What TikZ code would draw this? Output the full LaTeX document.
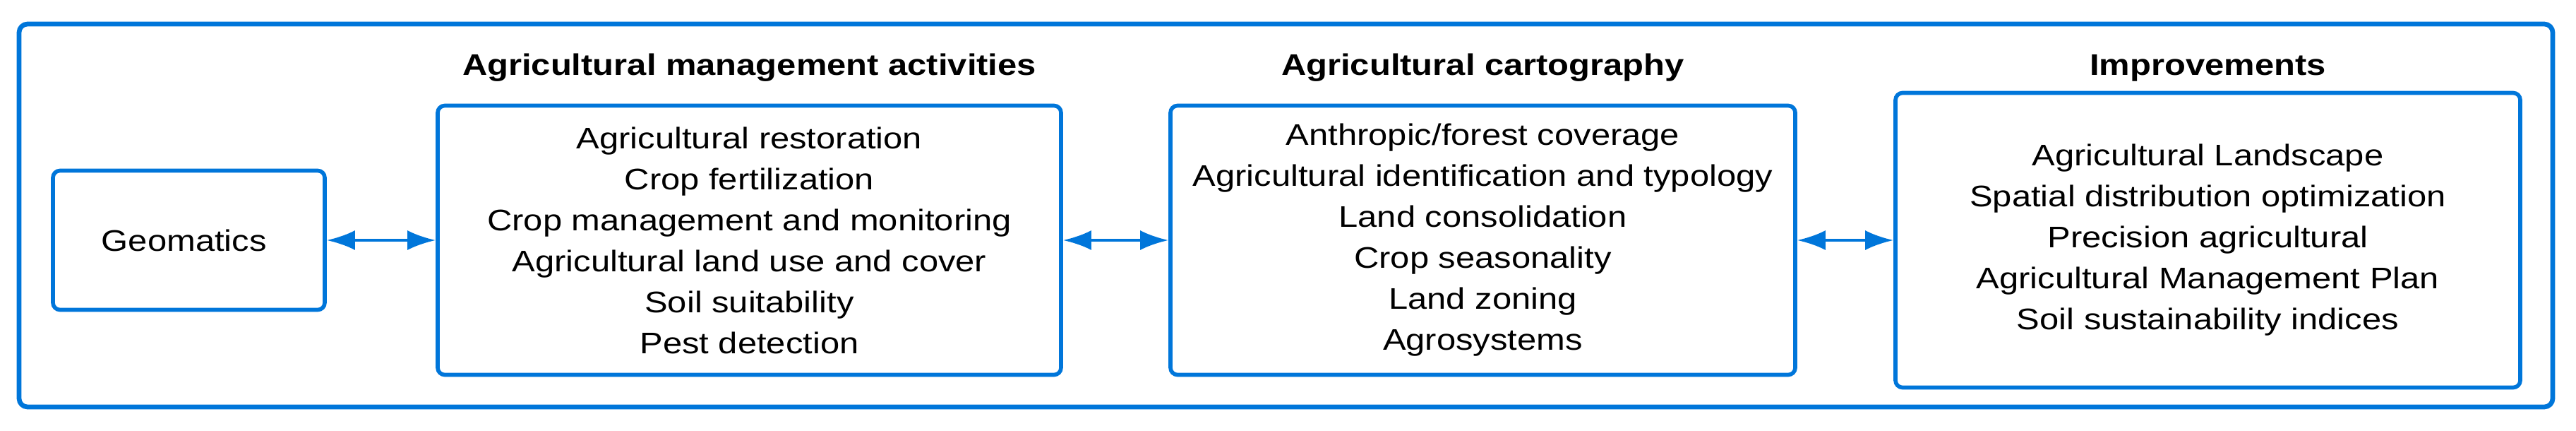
\documentclass[tikz,border=0pt]{standalone}
\usepackage{fontspec}
\setmainfont{Liberation Sans}[FakeStretch=1.16]
\usetikzlibrary{arrows.meta}
\definecolor{boxblue}{RGB}{0,118,218}

\begin{document}
\begin{tikzpicture}[
    framebox/.style={draw=boxblue, line width=1.9pt, rounded corners=1.2mm},
    itembox/.style={draw=boxblue, line width=1.6pt, rounded corners=1mm, fill=white, align=center, inner sep=0pt, font=\fontsize{12}{16.5}\selectfont},
    headtext/.style={anchor=base, inner sep=0pt, font=\fontsize{12}{16.5}\selectfont\bfseries},
    biarrow/.style={color=boxblue, line width=1.2pt, {Latex[length=4mm,width=2.8mm]}-{Latex[length=4mm,width=2.8mm]}}
    ]
    \useasboundingbox (0,0) rectangle (36.49,6.09);
    \fill[white] (0,0) rectangle (36.49,6.09);
    \draw [framebox] (0.27,0.33) rectangle (36.16,5.75);

    \node [itembox, minimum width=3.85cm, minimum height=1.97cm] (geo) at (2.675,2.69) { Geomatics };

    \node [itembox, minimum width=8.83cm, minimum height=3.81cm] (mgmt) at (10.615,2.69) {
        Agricultural restoration\\ Crop fertilization\\ Crop management and monitoring\\
        Agricultural land use and cover\\ Soil suitability\\ Pest detection };
    \node [headtext] (mgmttitle) at (10.615,5.02) { Agricultural management activities };

    \node [itembox, minimum width=8.85cm, minimum height=3.81cm] (carto) at (21.005,2.69) {
        Anthropic/forest coverage\\ Agricultural identification and typology\\ Land consolidation\\
        Crop seasonality\\ Land zoning\\ Agrosystems };
    \node [headtext] (cartotitle) at (21.005,5.02) { Agricultural cartography };

    \node [itembox, minimum width=8.85cm, minimum height=4.17cm] (impr) at (31.275,2.69) {
        Agricultural Landscape\\ Spatial distribution optimization\\ Precision agricultural\\
        Agricultural Management Plan\\ Soil sustainability indices };
    \node [headtext] (imprtitle) at (31.275,5.02) { Improvements };

    \draw [biarrow] (geo) edge (mgmt);
    \draw [biarrow] (mgmt) edge (carto);
    \draw [biarrow] (carto) edge (impr);
\end{tikzpicture}
\end{document}
